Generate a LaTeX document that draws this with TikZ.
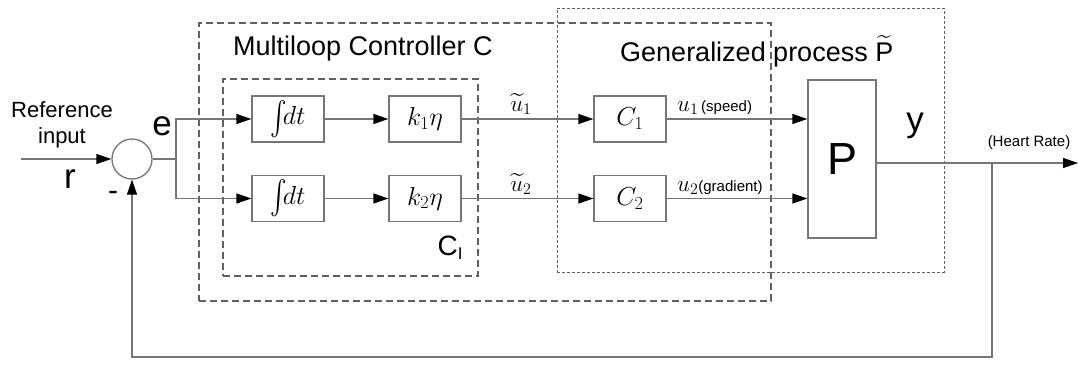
\RequirePackage{fix-cm}
\documentclass[tikz,border=0pt]{standalone}
\usepackage{amsmath}
\usepackage{fontspec}
\setmainfont{Liberation Sans}
\usetikzlibrary{arrows.meta}
\definecolor{lgray}{RGB}{118,118,118}
\definecolor{dgray}{RGB}{96,96,96}
\newcommand{\tallint}{\raisebox{-0.12em}{\scalebox{1}[1.35]{$\int$}}}
\begin{document}
\begin{tikzpicture}[x=1pt,y=-1pt,
  blk/.style={draw=lgray,line width=1.3pt,minimum width=72pt,minimum height=46pt,inner sep=0pt,font=\fontsize{26}{30}\selectfont},
  conn/.style={draw=lgray,line width=1.3pt},
  arr/.style={conn,-{Triangle[length=15pt,width=10pt,color=black]}},
  grpA/.style={draw=dgray,line width=1.2pt,dash pattern=on 7pt off 4pt,inner sep=0pt},
  grpB/.style={draw=dgray,line width=0.9pt,dash pattern=on 3pt off 2pt,inner sep=0pt},
  big/.style={font=\fontsize{35}{40}\selectfont},
  title/.style={font=\fontsize{27}{32}\selectfont},
  small/.style={font=\fontsize{15}{18}\selectfont}
]
\useasboundingbox (0,0) rectangle (1078,364);
% grouping boxes
\node[grpA,minimum width=572pt,minimum height=278pt] (mlbox) at (485,162) {};
\node[grpA,minimum width=255pt,minimum height=197pt] (cibox) at (350.5,177.5) {};
\node[grpB,minimum width=387pt,minimum height=264pt] (gpbox) at (750.5,140) {};
% blocks
\node[circle,draw=lgray,line width=1.3pt,minimum size=40pt,inner sep=0pt] (sum) at (132,159) {};
\node[blk] (i1) at (288,119) {\tallint$\!dt$};
\node[blk] (i2) at (288,198.5) {\tallint$\!dt$};
\node[blk] (k1) at (425,119) {$k_1\eta$};
\node[blk] (k2) at (425,198.5) {$k_2\eta$};
\node[blk] (c1) at (630,119) {$C_1$};
\node[blk] (c2) at (630,198.5) {$C_2$};
\node[draw=lgray,line width=1.3pt,minimum width=68pt,minimum height=158pt,inner sep=0pt,font=\fontsize{45}{50}\selectfont] (P) at (842,159) {P};
% coordinates
\coordinate (in) at (21,159);
\coordinate (br) at (176,159);
\coordinate (out) at (1078,163);
\coordinate (tap) at (992,163);
\coordinate (fb) at (992,357);
% connectors
\draw[arr] (in) -- (sum.west);
\draw[conn] (sum.east) -- (br);
\draw[arr] (br) |- (i1.west);
\draw[arr] (br) |- (i2.west);
\draw[arr] (i1) -- (k1);
\draw[arr] (i2) -- (k2);
\draw[arr] (k1) -- (c1);
\draw[arr] (k2) -- (c2);
\draw[arr] (c1.east) -- (P.west |- c1.east);
\draw[arr] (c2.east) -- (P.west |- c2.east);
\draw[arr] (P.east |- out) -- (out);
\draw[arr] (tap) -- (fb) -| (sum.south);
% labels
\node[anchor=base,font=\fontsize{22}{26}\selectfont] (ref) at (62,117) {Reference};
\node[anchor=base,font=\fontsize{22}{26}\selectfont] (inp) at (62,143) {input};
\node[anchor=base,big] (rl) at (70,188) {r};
\node[anchor=base,big] (el) at (162,135) {e};
\node[font=\fontsize{30}{34}\selectfont] (minus) at (113,196) {-};
\node[anchor=base west,title,inner sep=0pt] (mlc) at (233,55) {Multiloop Controller C};
\node[anchor=base west,title,inner sep=0pt] (gpl) at (620,61) {Generalized process $\widetilde{\mbox{P}}$};
\node[anchor=base,big] (yl) at (915,131) {y};
\node[small] (hr) at (1029,143) {(Heart Rate)};
\node[font=\fontsize{23}{26}\selectfont,inner sep=0pt] (ut1) at (521,104) {$\widetilde{u}_1$};
\node[font=\fontsize{23}{26}\selectfont,inner sep=0pt] (ut2) at (521,184) {$\widetilde{u}_2$};
\node[anchor=base west,inner sep=0pt] (u1l) at (677,111) {{\fontsize{23}{26}\selectfont$u_1$} {\fontsize{15}{18}\selectfont(speed)}};
\node[anchor=base west,inner sep=0pt] (u2l) at (677,191) {{\fontsize{23}{26}\selectfont$u_2$}{\fontsize{15}{18}\selectfont(gradient)}};
\node[font=\fontsize{28}{32}\selectfont] (ci) at (450,248) {C\raisebox{-0.25ex}{\fontsize{17}{20}\selectfont I}};
\end{tikzpicture}
\end{document}
